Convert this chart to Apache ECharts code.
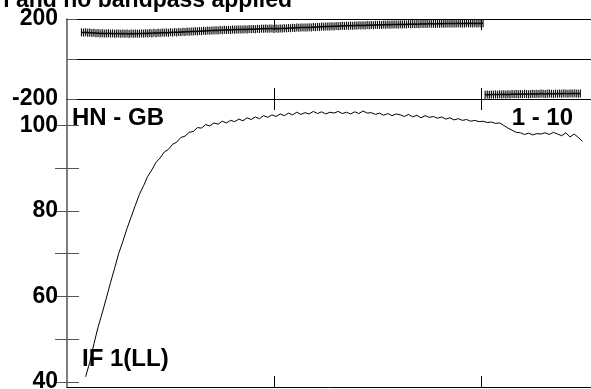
<!DOCTYPE html>
<html>
<head>
<meta charset="utf-8">
<script src="https://cdn.jsdelivr.net/npm/echarts@6/dist/echarts.min.js"></script>
<style>
html,body{margin:0;padding:0;background:#fff;}
#chart{width:591px;height:389px;}
</style>
</head>
<body>
<div id="chart"></div>
<script>
// ---- data ----
const titleText = 'l and no bandpass applied';
const baselineLabel = 'HN - GB';
const timeLabel = '1 - 10';
const ifLabel = 'IF 1(LL)';

const phaseTickLabels = [-200, 200];
const ampTickValues = [40, 50, 60, 70, 80, 90, 100];
const ampLabelValues = [40, 60, 80, 100];
const channelTicks = [100, 200];

// phase (degrees), one value per channel starting at channel 7
const phaseStartChannel = 7;
const phase = [
  133,132,134,131,132,130,131,129,130,128,
  129,128,127,129,127,128,126,128,127,126,
  128,126,127,125,127,126,128,126,127,128,
  127,129,128,130,128,131,129,131,130,132,
  131,133,131,134,132,135,133,135,134,136,
  135,137,136,138,137,139,138,140,139,141,
  140,142,141,143,142,144,143,145,144,146,
  145,146,145,147,146,148,147,148,147,149,
  148,150,149,150,149,151,150,152,151,152,
  151,153,152,150,152,151,153,152,154,153,
  155,154,156,155,157,156,158,157,158,157,
  159,158,160,159,161,160,162,161,162,163,
  162,164,163,165,164,165,166,165,167,166,
  167,166,168,167,169,168,169,168,170,169,
  170,169,171,170,171,170,172,171,172,171,
  173,172,173,172,174,173,174,173,175,174,
  175,174,175,174,176,175,176,175,177,176,
  176,175,177,176,177,176,178,177,178,177,
  178,177,179,178,178,177,179,178,179,178,
  179,178,179,178,179,
  -179,-178,-179,-177,-178,-177,-178,-176,-177,-176,
  -177,-176,-177,-175,-176,-175,-176,-175,-176,-174,
  -175,-176,-175,-174,-175,-174,-175,-173,-174,-175,
  -174,-173,-174,-175,-173,-174,-173,-174,-172,-173,
  -174,-172,-173,-172,-173,-174,-172
];

// amplitude, every second channel starting at channel 9
const ampStartChannel = 9;
const ampChannelStep = 2;
const amplitude = [
  41.2,44.6,48.9,52.8,56.1,59.6,63.2,66.6,70.1,72.9,
  75.9,78.6,81.3,83.9,85.9,88.1,89.6,91.4,92.4,93.8,
  94.4,95.6,96.1,97.2,97.5,98.4,98.6,99.5,99.4,100.2,
  99.9,100.6,100.3,101.0,100.6,101.2,100.9,101.5,101.1,101.8,
  101.4,102.0,101.6,102.3,101.9,102.5,102.1,102.7,102.3,102.9,
  102.5,103.1,102.6,103.0,102.7,103.3,102.8,103.2,102.7,103.1,
  102.9,103.3,102.8,103.1,102.7,103.2,102.8,103.4,102.9,103.0,
  102.6,102.9,102.4,102.8,102.3,102.7,102.5,102.1,102.6,102.0,
  102.4,101.8,102.3,101.9,102.1,101.7,102.0,101.5,101.8,101.3,
  101.6,101.2,101.4,101.0,101.2,100.9,101.0,100.7,100.8,100.5,
  100.6,100.0,99.4,98.9,98.4,98.3,97.9,98.2,97.8,98.1,
  98.0,98.3,97.9,98.4,98.0,97.6,98.3,97.3,98.0,97.2,
  96.3
];

// ---- build series data ----
const phaseData = [];
phase.forEach((v, i) => {
  if (i > 0 && Math.abs(v - phase[i - 1]) > 180) phaseData.push([phaseStartChannel + i - 0.5, '-']);
  phaseData.push([phaseStartChannel + i, v]);
});
const ampData = amplitude.map((v, i) => [ampStartChannel + i * ampChannelStep, v]);

const FONT = '"Liberation Sans", Arial, Helvetica, sans-serif';
const chMin = 0, chMax = 257;

function xAx(grid, pos, showLine) {
  return {
    type: 'value', gridIndex: grid, position: pos, min: chMin, max: chMax,
    axisLine: { show: showLine, onZero: false, lineStyle: { color: '#000', width: 1 } },
    axisTick: { show: true, inside: true, length: 11, customValues: channelTicks, lineStyle: { color: '#000', width: 1 } },
    axisLabel: { show: false }, splitLine: { show: false }
  };
}

const chart = echarts.init(document.getElementById('chart'), null, { renderer: 'canvas' });
chart.setOption({
  animation: false,
  backgroundColor: '#fff',
  grid: [
    { left: 67, top: 19, width: 532, height: 80, outerBoundsMode: 'none', containLabel: false },
    { left: 67, top: 99, width: 532, height: 288, outerBoundsMode: 'none', containLabel: false }
  ],
  xAxis: [
    xAx(0, 'bottom', true),
    xAx(0, 'top', true),
    xAx(1, 'bottom', true),
    xAx(1, 'top', false)
  ],
  yAxis: [
    {
      type: 'value', gridIndex: 0, min: -200, max: 200, interval: 200,
      axisLine: { show: true, lineStyle: { color: '#555', width: 1.5 } },
      axisTick: { show: true, inside: true, length: 10, lineStyle: { color: '#555' } },
      axisLabel: { show: true, margin: 9, color: '#000', fontSize: 23, fontWeight: 'bold', fontFamily: FONT,
        formatter: v => (phaseTickLabels.indexOf(v) >= 0 ? String(v) : '') },
      splitLine: { show: true, lineStyle: { color: '#000', width: 1 } }
    },
    {
      type: 'value', gridIndex: 1, min: 38.8, max: 106.2, position: 'left',
      axisLine: { show: true, onZero: false, lineStyle: { color: '#555', width: 1.5 } },
      axisTick: { show: true, inside: true, length: 12, customValues: ampTickValues, lineStyle: { color: '#555' } },
      axisLabel: { show: true, margin: 9, color: '#000', fontSize: 23, fontWeight: 'bold', fontFamily: FONT,
        customValues: ampLabelValues },
      splitLine: { show: false }
    },
    {
      type: 'value', gridIndex: 1, min: 38.8, max: 106.2, position: 'right',
      axisLine: { show: false },
      axisTick: { show: true, inside: true, length: 12, customValues: ampTickValues, lineStyle: { color: '#555' } },
      axisLabel: { show: false },
      splitLine: { show: false }
    }
  ],
  series: [
    {
      type: 'line', xAxisIndex: 0, yAxisIndex: 0, data: phaseData,
      showAllSymbol: true, symbol: 'rect', symbolSize: [1.2, 8],
      itemStyle: { color: '#111' },
      lineStyle: { color: '#000', width: 1.5 },
      connectNulls: false, silent: true
    },
    {
      type: 'line', xAxisIndex: 2, yAxisIndex: 1, data: ampData,
      showSymbol: false, symbol: 'none',
      lineStyle: { color: '#000', width: 1 }, silent: true
    }
  ],
  graphic: [
    { type: 'text', x: 292, y: 1, style: { text: titleText, fill: '#000', font: 'bold 23px ' + FONT, align: 'right', verticalAlign: 'middle' } },
    { type: 'text', x: 72, y: 118, style: { text: baselineLabel, fill: '#000', font: 'bold 24px ' + FONT, verticalAlign: 'middle' } },
    { type: 'text', x: 573, y: 118.5, style: { text: timeLabel, fill: '#000', font: 'bold 24px ' + FONT, align: 'right', verticalAlign: 'middle' } },
    { type: 'text', x: 82, y: 359, style: { text: ifLabel, fill: '#000', font: 'bold 24px ' + FONT, verticalAlign: 'middle' } }
  ]
});
</script>
</body>
</html>
